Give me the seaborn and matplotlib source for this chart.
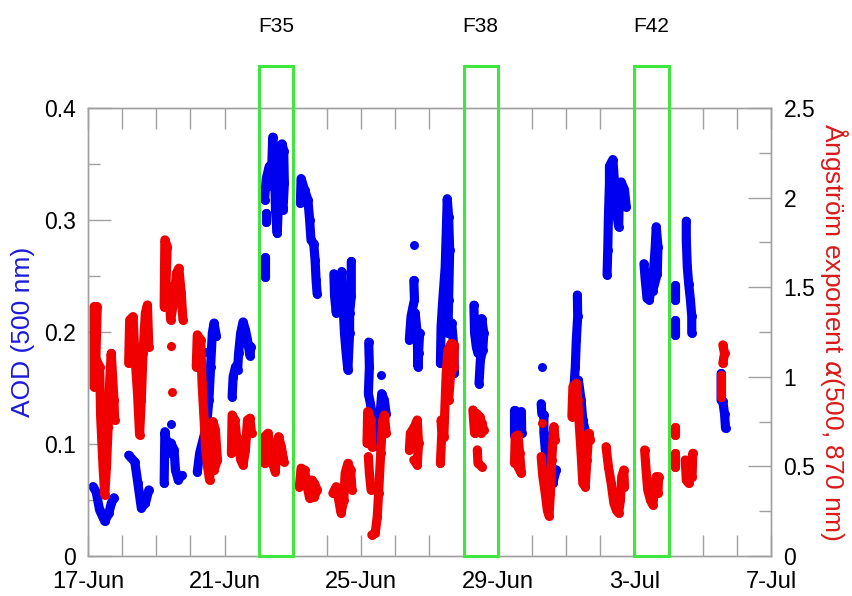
import matplotlib
matplotlib.use('Agg')
import matplotlib.pyplot as plt
import matplotlib.dates as mdates
from matplotlib.patches import Rectangle
from matplotlib.ticker import MultipleLocator, FuncFormatter, FixedLocator
import pandas as pd
import seaborn as sns

START = pd.Timestamp('2013-06-17')
END = pd.Timestamp('2013-07-07')

# (days after 17-Jun 00:00, AOD at 500 nm), one list per measuring streak
AOD_TRACES = [
    [(0.15, .062), (0.24, .057), (0.34, .041), (0.49, .031), (0.61, .038), (0.68, .047), (0.76, .052)],
    [(1.19, .090), (1.37, .084), (1.46, .065), (1.56, .043), (1.68, .047), (1.78, .059)],
    [(2.23, .065), (2.25, .111), (2.34, .092), (2.42, .101), (2.52, .095), (2.56, .077), (2.64, .068), (2.75, .072)],
    [(2.44, .118)],
    [(3.20, .075), (3.27, .092), (3.37, .104), (3.47, .116), (3.54, .139), (3.59, .169), (3.64, .199), (3.69, .208), (3.76, .196)],
    [(3.44, .182)],
    [(4.22, .142), (4.25, .160), (4.32, .169), (4.38, .166), (4.41, .181), (4.47, .199), (4.54, .209), (4.61, .202),
     (4.67, .193), (4.74, .179), (4.77, .187)],
    [(5.17, .318), (5.22, .337), (5.31, .348), (5.36, .330), (5.41, .374), (5.46, .348), (5.49, .309), (5.54, .288),
     (5.58, .318), (5.61, .354), (5.68, .368), (5.73, .362), (5.75, .333), (5.71, .309), (5.64, .324)],
    [(5.19, .267), (5.19, .258), (5.19, .249)],
    [(5.20, .306), (5.20, .298)],
    [(6.22, .315), (6.24, .337), (6.34, .327), (6.44, .318), (6.49, .300), (6.53, .282), (6.61, .279), (6.65, .264),
     (6.68, .246), (6.71, .234)],
    [(7.20, .252), (7.22, .232), (7.27, .217), (7.32, .240), (7.36, .229), (7.43, .254), (7.46, .229), (7.51, .199),
     (7.56, .181), (7.61, .166), (7.66, .199), (7.66, .217), (7.71, .232), (7.71, .263)],
    [(8.22, .191), (8.24, .169), (8.21, .145), (8.27, .136), (8.34, .124), (8.41, .110), (8.47, .098), (8.54, .121),
     (8.60, .145), (8.68, .139), (8.73, .127)],
    [(8.58, .162)],
    [(9.56, .278)],
    [(9.54, .246), (9.56, .229), (9.46, .214), (9.41, .193), (9.51, .199), (9.58, .217), (9.64, .199), (9.66, .169),
     (9.68, .181), (9.71, .199)],
    [(10.32, .172), (10.34, .205), (10.39, .229), (10.46, .258), (10.49, .288), (10.52, .319), (10.56, .303),
     (10.59, .273), (10.56, .229), (10.54, .199), (10.65, .208), (10.71, .187), (10.73, .163)],
    [(11.30, .224), (11.32, .199), (11.37, .187), (11.42, .181), (11.47, .193), (11.53, .212), (11.59, .199),
     (11.56, .184), (11.49, .175), (11.45, .154)],
    [(12.49, .107), (12.49, .130), (12.59, .127), (12.69, .129), (12.70, .110)],
    [(13.29, .169)],
    [(13.27, .136), (13.29, .127), (13.35, .126), (13.35, .110), (13.39, .095), (13.45, .080), (13.49, .071),
     (13.61, .065), (13.71, .077)],
    [(14.33, .233), (14.34, .214), (14.30, .193), (14.27, .169), (14.23, .151), (14.36, .157), (14.44, .139),
     (14.49, .121), (14.56, .112), (14.64, .107)],
    [(15.20, .251), (15.22, .273), (15.24, .303), (15.27, .333), (15.27, .348), (15.37, .354), (15.42, .333),
     (15.47, .309), (15.54, .294), (15.56, .321), (15.61, .334), (15.71, .327), (15.76, .312)],
    [(16.28, .261), (16.32, .246), (16.37, .230), (16.44, .229), (16.49, .240), (16.57, .258), (16.61, .276),
     (16.64, .294), (16.69, .276), (16.67, .252), (16.54, .237)],
    [(17.18, .242), (17.18, .235), (17.18, .229)],
    [(17.18, .211), (17.18, .204), (17.18, .197)],
    [(17.52, .299), (17.52, .282), (17.55, .258), (17.59, .243), (17.64, .229), (17.68, .214), (17.68, .199)],
    [(18.54, .163), (18.54, .139), (18.59, .138), (18.64, .127), (18.67, .114)],
]

# (days after 17-Jun 00:00, Angstrom exponent 500/870 nm)
ALPHA_TRACES = [
    [(0.18, 0.945), (0.18, 1.392), (0.27, 1.392), (0.23, 1.10), (0.34, 1.057), (0.37, 0.778), (0.44, 0.499),
     (0.49, 0.341), (0.54, 0.499), (0.59, 0.722), (0.64, 1.001), (0.68, 1.131), (0.76, 0.871), (0.78, 0.759)],
    [(1.19, 1.075), (1.22, 1.317), (1.32, 1.336), (1.37, 1.131), (1.45, 0.908), (1.51, 0.676), (1.56, 0.871),
     (1.61, 1.131), (1.68, 1.355), (1.74, 1.401), (1.78, 1.168)],
    [(2.23, 1.392), (2.25, 1.764), (2.32, 1.727), (2.28, 1.50), (2.36, 1.503), (2.42, 1.317), (2.52, 1.429),
     (2.59, 1.578), (2.66, 1.606), (2.73, 1.466), (2.78, 1.317)],
    [(2.44, 1.174)],
    [(2.46, 0.914)],
    [(3.17, 1.057), (3.20, 1.234), (3.30, 1.206), (3.34, 0.964), (3.40, 0.759), (3.44, 0.610), (3.50, 0.499),
     (3.56, 0.424), (3.61, 0.573), (3.66, 0.750), (3.73, 0.703), (3.79, 0.536), (3.69, 0.480), (3.54, 0.685)],
    [(4.20, 0.573), (4.22, 0.787), (4.30, 0.759), (4.35, 0.666), (4.41, 0.629), (4.47, 0.536), (4.54, 0.508),
     (4.61, 0.592), (4.67, 0.759), (4.74, 0.769), (4.79, 0.685)],
    [(5.17, 0.517), (5.17, 0.666), (5.27, 0.685), (5.34, 0.610), (5.41, 0.517), (5.48, 0.471), (5.54, 0.592),
     (5.58, 0.666), (5.66, 0.610), (5.73, 0.527), (5.68, 0.573)],
    [(6.19, 0.387), (6.24, 0.490), (6.34, 0.480), (6.42, 0.387), (6.49, 0.322), (6.55, 0.424), (6.63, 0.406),
     (6.71, 0.369), (6.63, 0.331)],
    [(7.17, 0.350), (7.27, 0.387), (7.34, 0.313), (7.41, 0.239), (7.49, 0.313), (7.53, 0.462), (7.61, 0.517),
     (7.69, 0.480), (7.73, 0.369)],
    [(8.17, 0.629), (8.19, 0.806), (8.29, 0.759), (8.31, 0.610)],
    [(8.21, 0.555), (8.24, 0.462), (8.29, 0.369)],
    [(8.31, 0.118), (8.41, 0.127), (8.47, 0.220), (8.51, 0.350), (8.57, 0.573), (8.63, 0.759), (8.68, 0.787),
     (8.73, 0.685)],
    [(9.41, 0.592), (9.44, 0.685), (9.56, 0.722), (9.64, 0.759), (9.68, 0.629), (9.64, 0.508), (9.54, 0.536)],
    [(10.32, 0.517), (10.36, 0.685), (10.34, 0.759), (10.42, 0.666), (10.46, 0.871), (10.49, 1.020), (10.54, 1.150),
     (10.64, 1.187), (10.73, 1.178), (10.71, 1.057), (10.62, 1.020), (10.56, 0.871)],
    [(11.27, 0.815), (11.32, 0.685), (11.37, 0.796), (11.47, 0.778), (11.53, 0.741), (11.59, 0.703), (11.51, 0.685)],
    [(11.40, 0.592), (11.42, 0.517), (11.53, 0.499)],
    [(12.49, 0.517), (12.51, 0.666), (12.59, 0.676), (12.64, 0.573), (12.69, 0.462), (12.59, 0.499)],
    [(13.29, 0.741)],
    [(13.27, 0.555), (13.32, 0.443), (13.39, 0.350), (13.45, 0.257), (13.50, 0.224), (13.54, 0.350), (13.58, 0.536),
     (13.64, 0.722), (13.68, 0.648)],
    [(14.17, 0.778), (14.20, 0.945), (14.30, 0.964), (14.34, 0.871), (14.39, 0.722), (14.44, 0.573), (14.49, 0.406),
     (14.56, 0.387), (14.61, 0.536), (14.66, 0.685), (14.71, 0.648)],
    [(15.17, 0.610), (15.24, 0.499), (15.32, 0.406), (15.40, 0.294), (15.47, 0.257), (15.54, 0.239), (15.59, 0.313),
     (15.63, 0.443), (15.69, 0.480), (15.71, 0.387)],
    [(16.30, 0.592), (16.35, 0.462), (16.39, 0.369), (16.47, 0.313), (16.54, 0.285), (16.59, 0.369), (16.64, 0.443),
     (16.71, 0.443), (16.69, 0.350)],
    [(17.18, 0.722), (17.18, 0.676)],
    [(17.18, 0.573), (17.18, 0.499)],
    [(17.49, 0.536), (17.52, 0.424), (17.59, 0.406), (17.66, 0.499), (17.71, 0.573), (17.69, 0.443)],
    [(18.59, 1.178), (18.64, 1.131), (18.59, 1.075)],
    [(18.54, 1.010), (18.54, 0.890)],
]

FLIGHTS = ['F35', 'F38', 'F42']
FLIGHT_DAYS = ['2013-06-22', '2013-06-28', '2013-07-03']
XTICKS = ['2013-06-17', '2013-06-21', '2013-06-25', '2013-06-29', '2013-07-03', '2013-07-07']

BLUE = '#0000f0'
RED = '#f00000'
GREY = '#a0a0a0'


def to_frame(traces):
    rows = []
    for i, tr in enumerate(traces):
        for d, v in tr:
            rows.append((i, START + pd.Timedelta(days=d), v))
    return pd.DataFrame(rows, columns=['trace', 'time', 'value'])


sns.set_style('white')
plt.rcParams['font.family'] = ['Liberation Sans', 'DejaVu Sans']
plt.rcParams['mathtext.fontset'] = 'dejavusans'
plt.rcParams['text.color'] = 'black'

fig = plt.figure(figsize=(8.52, 5.96), dpi=100)
ax = fig.add_axes([0.1033, 0.0671, 0.8016, 0.7517])
ax2 = ax.twinx()

aod = to_frame(AOD_TRACES)
alpha = to_frame(ALPHA_TRACES)

# streaks of dense points: thick round-capped traces plus the points themselves
for axis, df, col in [(ax, aod, BLUE), (ax2, alpha, RED)]:
    sns.lineplot(data=df, x='time', y='value', units='trace', estimator=None, sort=False,
                 color=col, lw=6.6, solid_capstyle='round', solid_joinstyle='round', ax=axis)
    sns.scatterplot(data=df, x='time', y='value', color=col, s=42, linewidth=0, ax=axis)

ax.set_xlim(START, END)
ax.set_ylim(0, 0.4)
ax2.set_ylim(0, 2.5)

ax.xaxis.set_major_locator(FixedLocator(mdates.date2num(pd.to_datetime(XTICKS))))
ax.xaxis.set_minor_locator(mdates.DayLocator())
ax.xaxis.set_major_formatter(mdates.DateFormatter('%-d-%b'))
ax.yaxis.set_major_locator(MultipleLocator(0.1))
ax.yaxis.set_minor_locator(MultipleLocator(0.05))
ax2.yaxis.set_major_locator(MultipleLocator(0.5))
ax2.yaxis.set_minor_locator(MultipleLocator(0.25))
fmt = FuncFormatter(lambda v, _: f'{v:g}')
ax.yaxis.set_major_formatter(fmt)
ax2.yaxis.set_major_formatter(fmt)

ax.tick_params(axis='x', which='both', direction='in', top=True, bottom=True, length=15,
               width=1, color=GREY, labelsize=17, pad=11, labelcolor='black')
ax.tick_params(axis='y', which='major', direction='in', left=True, right=False, length=16.5,
               width=1, color=GREY, labelsize=16.5, pad=9, labelcolor='black')
ax.tick_params(axis='y', which='minor', direction='in', left=True, right=False, length=8.5,
               width=1, color=GREY)
ax2.tick_params(axis='y', which='major', direction='in', right=True, left=False, length=16.5,
                width=1, color=GREY, labelsize=16.5, pad=9, labelcolor='black')
ax2.tick_params(axis='y', which='minor', direction='in', right=True, left=False, length=8.5,
                width=1, color=GREY)

for a in (ax, ax2):
    for sp in a.spines.values():
        sp.set_color(GREY)
        sp.set_linewidth(1)

ax.set_xlabel('')
ax.set_ylabel('AOD (500 nm)', color='#1a1ad9', fontsize=19, va='center', ha='center')
ax.yaxis.set_label_coords(-0.095, 0.5)
ax2.set_ylabel(r'Ångström exponent $\alpha$(500, 870 nm)', color='#d91a1a', fontsize=19,
               rotation=270, va='center', ha='center')
ax2.yaxis.set_label_coords(1.092, 0.5)

trans = ax2.get_xaxis_transform()
for name, day in zip(FLIGHTS, FLIGHT_DAYS):
    x0 = mdates.date2num(pd.Timestamp(day))
    ax2.add_patch(Rectangle((x0, 0), 1, 1.094, transform=trans, fill=False,
                            ec='#3ee63e', lw=2.2, clip_on=False, zorder=5))
    ax2.text(x0 + 0.5, 1.183, name, transform=trans, ha='center', va='center',
             fontsize=15, color='black')

fig.savefig('out.png', dpi=100)
